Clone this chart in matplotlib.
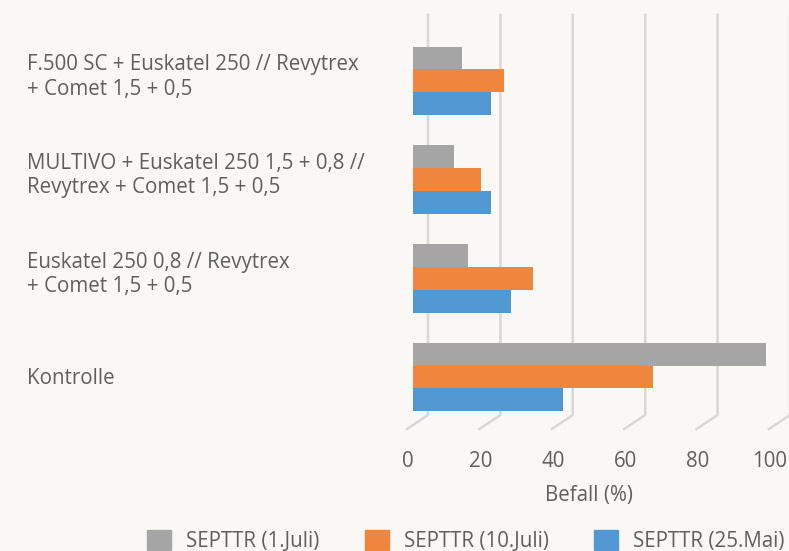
import numpy as np
import matplotlib.pyplot as plt
import matplotlib.transforms as mtransforms
from matplotlib.patches import Patch

plt.rcParams['font.family'] = ['Open Sans', 'DejaVu Sans']

categorias = ['F.500 SC + Euskatel 250 // Revytrex\n+ Comet 1,5 + 0,5',
              'MULTIVO + Euskatel 250 1,5 + 0,8 //\nRevytrex + Comet 1,5 + 0,5',
              'Euskatel 250 0,8 // Revytrex\n+ Comet 1,5 + 0,5',
              'Kontrolle']
series = ['SEPTTR (1.Juli)', 'SEPTTR (10.Juli)', 'SEPTTR (25.Mai)']
julio1 = [13.5, 11.3, 15.2, 97.5]
julio10 = [25.1, 18.8, 33.1, 66.3]
mayo25 = [21.5, 21.5, 27.0, 41.4]
ticks = [0, 20, 40, 60, 80, 100]

colores = ['#a5a5a5', '#f0853e', '#5299d4']
fondo = '#f9f8f5'
texto = '#5f5f5f'
grid_c = '#d9d8d6'
fs = 14.8

fig = plt.figure(figsize=(7.89, 5.51), dpi=100, facecolor=fondo)
ax = fig.add_axes([413/789, 1-426.3/551, 362/789, 394.7/551])
ax.set_facecolor('none')
ax.set_xlim(0, 100)
ax.set_ylim(3.5, -0.5)

y = np.arange(len(categorias))
h = 0.232
for i, vals in enumerate([julio1, julio10, mayo25]):
    ax.barh(y + (i-1)*h, vals, height=h, color=colores[i], zorder=3)

# rejilla con perspectiva (como el grafico 3D de Excel)
px_x = 362 / 100.0      # pixeles por unidad en x
px_y = 394.7            # alto del eje en pixeles
atras = 15 / px_x       # desplazamiento del plano trasero
frente = -6 / px_x      # desplazamiento del plano delantero
trans = ax.get_xaxis_transform()
y_top = 1 + 16.7/px_y
y_bot = 11.3/px_y
y_front = -2.7/px_y
for v in ticks:
    ax.plot([v+atras, v+atras, v+frente], [y_top, y_bot, y_front], transform=trans,
            color=grid_c, lw=1.8, clip_on=False, zorder=1, solid_joinstyle='miter')
    ax.text(v - 5/px_x, -35.5/px_y, str(v), transform=trans, ha='center', va='center',
            fontsize=fs, color=texto)

ax.text(50 - 5/px_x, -68.7/px_y, 'Befall (%)', transform=trans, ha='center', va='center',
        fontsize=fs, color=texto)

tr_cat = mtransforms.blended_transform_factory(fig.transFigure, ax.transData)
for i, cat in enumerate(categorias):
    dy = -0.04 if '\n' in cat else 0.02
    fig.text(27/789, i + dy, cat, ha='left', va='center', fontsize=fs, color=texto,
             linespacing=1.22, transform=tr_cat)

for sp in ax.spines.values():
    sp.set_visible(False)
ax.set_xticks([])
ax.set_yticks([])

handles = [Patch(color=c) for c in colores]
fig.legend(handles, series, loc='center', bbox_to_anchor=(466/789, 1-541/551), ncol=3,
           frameon=False, fontsize=fs, labelcolor=texto, handlelength=1.15, handleheight=1.15,
           handletextpad=0.75, columnspacing=2.2)

fig.savefig('out.png', dpi=100, facecolor=fondo)
